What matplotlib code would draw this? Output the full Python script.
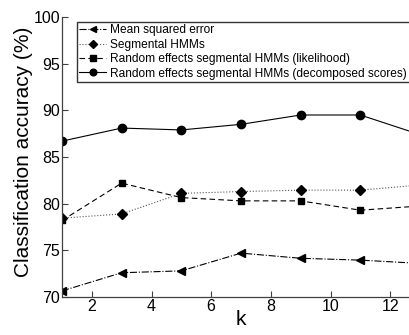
import matplotlib
matplotlib.use("Agg")
import matplotlib.pyplot as plt

plt.rcParams['font.family'] = ['Liberation Sans', 'DejaVu Sans']

k = [1, 3, 5, 7, 9, 11, 13]
mse = [70.65, 72.6, 72.8, 74.7, 74.15, 73.95, 73.6]
seg = [78.45, 78.9, 81.1, 81.3, 81.45, 81.45, 82.0]
re_lik = [78.2, 82.2, 80.65, 80.3, 80.3, 79.3, 79.75]
re_dec = [86.7, 88.1, 87.9, 88.5, 89.5, 89.5, 87.4]

labels = ["Mean squared error", "Segmental HMMs",
          "Random effects segmental HMMs (likelihood)",
          "Random effects segmental HMMs (decomposed scores)"]

fig = plt.figure(figsize=(4.09, 3.35), dpi=100)
ax = fig.add_axes([62/409, 38/335, 358/409, 280/335])

ax.plot(k, mse, color='black', linestyle='-.', linewidth=0.8, marker='<', markersize=6, label=labels[0])
ax.plot(k, seg, color='#555555', linestyle=':', linewidth=0.8, marker='D', markersize=5,
        markerfacecolor='black', markeredgecolor='black', label=labels[1])
ax.plot(k, re_lik, color='black', linestyle=(0, (5, 3)), linewidth=0.8, marker='s', markersize=5, label=labels[2])
ax.plot(k, re_dec, color='black', linestyle='-', linewidth=0.8, marker='o', markersize=6, label=labels[3])

ax.set_xlim(1, 13)
ax.set_ylim(70, 100)
ax.set_xticks([2, 4, 6, 8, 10, 12])
ax.set_yticks([70, 75, 80, 85, 90, 95, 100])
ax.tick_params(direction='in', labelsize=11.5, length=4, width=0.8, pad=1.5, color='#404040')
for s in ['left', 'bottom']:
    ax.spines[s].set_color('#404040')
    ax.spines[s].set_linewidth(0.9)
ax.spines['top'].set_visible(False)
ax.spines['right'].set_visible(False)
ax.set_xlabel('k', fontsize=15, labelpad=-3)
ax.set_ylabel('Classification accuracy (%)', fontsize=15)
ax.yaxis.set_label_coords(-0.08, 0.52)

leg = ax.legend(loc='upper left', bbox_to_anchor=(0.042, 0.982), borderaxespad=0,
                fontsize=8.6, frameon=True, fancybox=False, edgecolor='black',
                handlelength=2.2, labelspacing=0.2, handletextpad=0.4,
                borderpad=0.2, markerscale=0.8)
leg.get_frame().set_linewidth(1.0)

fig.savefig('out.png', dpi=100)
